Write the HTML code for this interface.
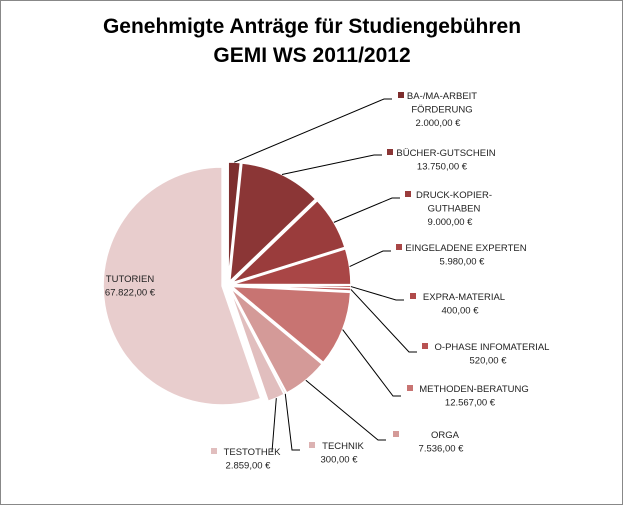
<!DOCTYPE html>
<html><head><meta charset="utf-8"><style>
body{margin:0;background:#fff;}
svg{display:block;font-family:"Liberation Sans",sans-serif;}
</style></head><body>
<svg id="c" width="624" height="506" viewBox="0 0 624 506">
<rect x="0.5" y="0.5" width="622" height="504" fill="#fff" stroke="#888"/>
<text x="312" y="33" text-anchor="middle" font-size="21" font-weight="bold" fill="#000">Genehmigte Anträge für Studiengebühren</text>
<text x="312" y="62" text-anchor="middle" font-size="21" font-weight="bold" fill="#000">GEMI WS 2011/2012</text>
<g id="slices"></g><g id="labels"></g>
</svg>
<script>
const categories=["BA-/MA-ARBEIT FÖRDERUNG","BÜCHER-GUTSCHEIN","DRUCK-KOPIER-GUTHABEN","EINGELADENE EXPERTEN","EXPRA-MATERIAL","O-PHASE INFOMATERIAL","METHODEN-BERATUNG","ORGA","TECHNIK","TESTOTHEK","TUTORIEN"];
const values=[2000,13750,9000,5980,400,520,12567,7536,300,2859,67822];
const valueLabels=["2.000,00 €","13.750,00 €","9.000,00 €","5.980,00 €","400,00 €","520,00 €","12.567,00 €","7.536,00 €","300,00 €","2.859,00 €","67.822,00 €"];
const colors=["#7d2e2e","#8b3636","#9a3c3c","#a94646","#b04a4a","#b85252","#c87472","#d49a98","#dcb2b2","#e1bebe","#e8cdcd"];
// label layout: [lines, squareX, textCenterX, firstLineY, lineEndX, lineEndY]
const layout=[
 [["BA-/MA-ARBEIT","FÖRDERUNG"],398,438,99,392,99],
 [["BÜCHER-GUTSCHEIN"],387,442,156,382,155],
 [["DRUCK-KOPIER-","GUTHABEN"],405,450,198,400,198],
 [["EINGELADENE EXPERTEN"],396,462,251,391,251],
 [["EXPRA-MATERIAL"],410,460,300,404,300],
 [["O-PHASE INFOMATERIAL"],422,488,350,417,352],
 [["METHODEN-BERATUNG"],407,470,392,401,396],
 [["ORGA"],393,441,438,386,440],
 [["TECHNIK"],309,339,449,300,450],
 [["TESTOTHEK"],211,248,455,272,452],
 [["TUTORIEN"],null,130,282,null,null]
];
const NS="http://www.w3.org/2000/svg";
const cx=228,cy=285,R=119;
const total=values.reduce((a,b)=>a+b,0);
function pt(a,r,ox,oy){return [ox+r*Math.sin(a),oy-r*Math.cos(a)];}
const sg=document.getElementById('slices'),lg=document.getElementById('labels');
let acc=0;
values.forEach((v,i)=>{
 const a0=acc/total*2*Math.PI;acc+=v;const a1=acc/total*2*Math.PI;const am=(a0+a1)/2;
 const off=i===10?6:4;
 const ox=cx+off*Math.sin(am),oy=cy-off*Math.cos(am);
 const p0=pt(a0,R,ox,oy),p1=pt(a1,R,ox,oy);
 const path=document.createElementNS(NS,'path');
 path.setAttribute('d',`M${ox},${oy}L${p0[0]},${p0[1]}A${R},${R} 0 ${a1-a0>Math.PI?1:0} 1 ${p1[0]},${p1[1]}Z`);
 path.setAttribute('fill',colors[i]);path.setAttribute('stroke','#fff');path.setAttribute('stroke-width','1.5');
 
 
 sg.appendChild(path);
 const L=layout[i];
 if(L[4]!==null){
  const e=pt(am,R,ox,oy);
  const ln=document.createElementNS(NS,'polyline');
  const kx=L[4]-(i===9?0:8);
  ln.setAttribute('points',`${e[0]},${e[1]} ${kx},${L[5]} ${L[4]},${L[5]}`);
  ln.setAttribute('fill','none');ln.setAttribute('stroke','#000');ln.setAttribute('stroke-width','1');
  
  
  lg.appendChild(ln);
 }
 if(L[1]!==null){
  const sq=document.createElementNS(NS,'rect');
  sq.setAttribute('x',L[1]);sq.setAttribute('y',L[3]-7);sq.setAttribute('width',6);sq.setAttribute('height',6);sq.setAttribute('fill',colors[i]);
  
  
  lg.appendChild(sq);
 }
 const lines=L[0].concat([valueLabels[i]]);
 lines.forEach((s,j)=>{
  const t=document.createElementNS(NS,'text');
  t.setAttribute('x',L[2]+(j<L[0].length&&L[1]!==null?4:0));t.setAttribute('y',L[3]+j*13.5);
  t.setAttribute('text-anchor','middle');t.setAttribute('font-size','9.5');t.setAttribute('fill','#222');
  t.textContent=s;
  
  
  lg.appendChild(t);
 });
});
</script>
</body></html>
